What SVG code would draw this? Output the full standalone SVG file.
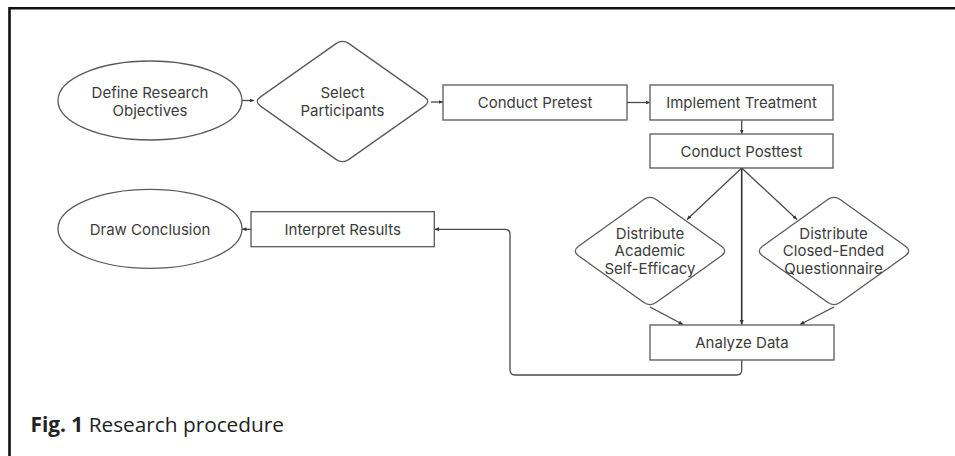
<svg xmlns="http://www.w3.org/2000/svg" width="955" height="456" viewBox="0 0 955 456">
<defs>
<marker id="ah" viewBox="0 0 5 5" refX="5" refY="2.5" markerWidth="4.5" markerHeight="4.5" markerUnits="userSpaceOnUse" orient="auto">
<path d="M0,0.3 L5,2.5 L0,4.7 Z" fill="#333"/>
</marker>
<style>
.sh{fill:#fff;stroke:#5a5a5a;stroke-width:1.3}
.t{font-family:Inter,"Open Sans",sans-serif;font-size:15px;fill:#3c3c3c;text-anchor:middle;dominant-baseline:central}
.cm{fill:none;stroke:#4a4a4a;stroke-width:1.3;marker-end:url(#ah)}
</style>
</defs>
<rect width="955" height="456" fill="#fff"/>
<path d="M9.5 456 V8.3 H955" fill="none" stroke="#111" stroke-width="2.6"/>
<g id="connectors">
<line class="cm" x1="242" y1="100.5" x2="254" y2="100.5"/>
<line class="cm" x1="431" y1="102" x2="443" y2="102"/>
<line class="cm" x1="627" y1="102.5" x2="650" y2="102.5"/>
<line class="cm" x1="741.7" y1="120" x2="741.7" y2="134"/>
<line class="cm" x1="741.7" y1="168" x2="687" y2="219.5"/>
<line class="cm" x1="741.7" y1="168" x2="797" y2="219.5"/>
<line class="cm" x1="741.7" y1="168" x2="741.7" y2="324.5" style="stroke:#333;stroke-width:1.6"/>
<line class="cm" x1="650" y1="307" x2="683" y2="324.5"/>
<line class="cm" x1="834" y1="307" x2="800" y2="324.5"/>
<path class="cm" d="M741.7 360 V370 Q741.7 375 736.7 375 H515 Q510 375 510 370 V234.3 Q510 229.3 505 229.3 H434.5"/>
<line class="cm" x1="251" y1="229.3" x2="242" y2="229.3"/>
</g>
<g id="define">
<ellipse class="sh" cx="150" cy="100.5" rx="92" ry="39.5"/>
<text class="t" x="150" y="92.7">Define Research</text>
<text class="t" x="150" y="110.3">Objectives</text>
</g>
<g id="select">
<path class="sh" d="M349 43.6 L424.5 96.9 Q431 101.5 424.5 106.1 L349 159.4 Q342.5 164 336 159.4 L260.5 106.1 Q254 101.5 260.5 96.9 L336 43.6 Q342.5 39 349 43.6 Z"/>
<text class="t" x="342.5" y="92.7">Select</text>
<text class="t" x="342.5" y="110.3">Participants</text>
</g>
<g id="pretest">
<rect class="sh" x="443" y="85" width="184" height="35"/>
<text class="t" x="535" y="102.5">Conduct Pretest</text>
</g>
<g id="treatment">
<rect class="sh" x="650" y="85" width="183" height="35"/>
<text class="t" x="741.5" y="102.5">Implement Treatment</text>
</g>
<g id="posttest">
<rect class="sh" x="650" y="134" width="183" height="34"/>
<text class="t" x="741.5" y="151">Conduct Posttest</text>
</g>
<g id="academic">
<path class="sh" d="M656.5 199.7 L721.5 246.3 Q728 251 721.5 255.7 L656.5 302.3 Q650 307 643.5 302.3 L578.5 255.7 Q572 251 578.5 246.3 L643.5 199.7 Q650 195 656.5 199.7 Z"/>
<text class="t" x="650" y="233">Distribute</text>
<text class="t" x="650" y="250.7">Academic</text>
<text class="t" x="650" y="268.3">Self-Efficacy</text>
</g>
<g id="questionnaire">
<path class="sh" d="M840.5 199.7 L905.5 246.3 Q912 251 905.5 255.7 L840.5 302.3 Q834 307 827.5 302.3 L762.5 255.7 Q756 251 762.5 246.3 L827.5 199.7 Q834 195 840.5 199.7 Z"/>
<text class="t" x="833.5" y="233">Distribute</text>
<text class="t" x="833.5" y="250.7">Closed-Ended</text>
<text class="t" x="833.5" y="268.3">Questionnaire</text>
</g>
<g id="analyze">
<rect class="sh" x="650" y="325" width="184" height="35"/>
<text class="t" x="742" y="342.5">Analyze Data</text>
</g>
<g id="interpret">
<rect class="sh" x="251" y="211.7" width="183.3" height="35"/>
<text class="t" x="342.7" y="229.3">Interpret Results</text>
</g>
<g id="conclusion">
<ellipse class="sh" cx="150" cy="228.8" rx="92" ry="39.5"/>
<text class="t" x="150" y="229.3">Draw Conclusion</text>
</g>
<text x="30.5" y="432" font-family="'Open Sans',sans-serif" font-size="20.8" fill="#222"><tspan font-weight="bold">Fig. 1</tspan> Research procedure</text>
</svg>
